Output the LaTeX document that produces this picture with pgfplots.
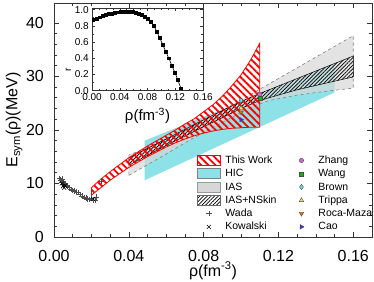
\documentclass[border=0pt]{standalone}
\usepackage{fontspec}
\setmainfont{Liberation Sans}
\usepackage{pgfplots}
\pgfplotsset{compat=1.18}
\usetikzlibrary{patterns.meta}
\definecolor{hic}{RGB}{140,226,230}
\definecolor{ias}{RGB}{215,215,215}
\definecolor{zhang}{RGB}{210,100,220}
\definecolor{wang}{RGB}{0,190,0}
\definecolor{brown}{RGB}{100,225,225}
\definecolor{trippa}{RGB}{240,225,100}
\definecolor{roca}{RGB}{225,110,0}
\definecolor{cao}{RGB}{90,30,220}
\tikzset{
  redhatch/.style={draw=red, line width=0.8pt, pattern={Lines[angle=-45,distance=5bp,line width=1.8bp]}, pattern color=red},
  blackhatch/.style={draw=black, line width=0.5pt, pattern={Lines[angle=45,distance=2.6bp,line width=0.7bp]}, pattern color=black},
}
\begin{document}
\begin{tikzpicture}
\begin{axis}[name=main,
  width=318bp, height=234bp, scale only axis,
  xmin=0, xmax=0.17, ymin=0, ymax=43.7,
  xtick={0,0.04,...,0.16}, ytick={0,10,...,40},
  minor x tick num=3, minor y tick num=4,
  tick align=inside, xtick pos=both, ytick pos=both,
  major tick length=5bp, minor tick length=3bp,
  axis line style={line width=0.8pt, black!80},
  every tick/.style={black!80, line width=0.6pt},
  /pgf/number format/assume math mode=true,
  /pgf/number format/fixed, /pgf/number format/fixed zerofill,
  xticklabel style={/pgf/number format/precision=2, inner sep=0pt, yshift=-13bp, font=\fontsize{16bp}{18bp}\selectfont},
  yticklabel style={/pgf/number format/precision=0, /pgf/number format/fixed zerofill=false, inner sep=0pt, xshift=-10bp, font=\fontsize{16bp}{18bp}\selectfont},
  scaled x ticks=false,
  xlabel={ρ(fm\textsuperscript{-3})},
  ylabel={E\textsubscript{sym}(ρ)(MeV)},
  xlabel style={at={([yshift=-39bp]axis description cs:0.5,0)}, anchor=base, font=\fontsize{16bp}{18bp}\selectfont},
  ylabel style={at={([xshift=-36.5bp]axis description cs:0,0.5)}, anchor=base, font=\fontsize{16bp}{18bp}\selectfont},
  legend columns=2,
  legend style={at={(0.4497,0.355)}, anchor=north west, draw=none, fill=none, inner sep=0pt, outer sep=0pt,
    row sep=0.2bp, column sep=0pt, font=\fontsize{10.5bp}{12bp}\selectfont,
    cells={anchor=west, inner sep=0pt, text height=7.6bp, text depth=2.4bp}},
]
% HIC
\addplot[fill=hic, draw=none, forget plot] coordinates {(0.0485,10.6) (0.15,27.0) (0.15,32.3) (0.0485,18.0)} -- cycle;
% IAS
\addplot[fill=ias, fill opacity=0.7, draw=black!50, dashed, line width=0.6pt, forget plot] coordinates {
 (0.04,11.5) (0.06,15.5) (0.0725,18.1) (0.09,21.4) (0.105,24.2) (0.115,25.5) (0.13,26.5) (0.145,27.2) (0.16,27.8)
 (0.16,37.6) (0.13,31.6) (0.11,27.6) (0.09,23.6) (0.07,19.8) (0.055,17.4) (0.04,15.3)} -- cycle;
% IAS+NSkin
\addplot[blackhatch, forget plot] coordinates {
 (0.04,13.4) (0.06,17.1) (0.08,20.6) (0.10,24.0) (0.11,25.5) (0.13,27.5) (0.16,29.9)
 (0.16,33.8) (0.13,29.6) (0.11,26.8) (0.10,25.3) (0.08,21.9) (0.06,18.3) (0.04,14.8)} -- cycle;
% This work
\addplot[redhatch, forget plot] coordinates {
 (0.020,7.8) (0.025,9.2) (0.030,10.6) (0.035,11.8) (0.040,13.0) (0.045,14.0) (0.050,15.0) (0.055,15.9) (0.060,16.8) (0.065,17.6) (0.070,18.3) (0.075,18.9) (0.080,19.4) (0.085,19.8) (0.090,20.1) (0.095,20.3) (0.100,20.4) (0.105,20.5) (0.110,20.5)
 (0.110,36.2) (0.105,33.0) (0.100,30.3) (0.095,28.2) (0.090,26.3) (0.085,24.7) (0.080,23.4) (0.075,22.1) (0.070,21.1) (0.065,20.0) (0.060,19.0) (0.055,18.0) (0.050,17.0) (0.045,15.9) (0.040,14.8) (0.035,13.5) (0.030,12.2) (0.025,10.8) (0.020,9.2)} -- cycle;
% Wada
\addplot[only marks, mark=+, mark size=2.8bp, black!70, line width=0.5pt, forget plot] coordinates {
 (0.003,10.9) (0.0035,10.6) (0.004,10.3) (0.0045,10.8) (0.005,10.2) (0.0055,9.9) (0.006,10.0) (0.0065,9.6) (0.007,9.4) (0.008,9.2) (0.009,8.9) (0.010,8.7) (0.011,8.6) (0.012,8.4) (0.013,8.3) (0.014,7.9) (0.015,7.7) (0.016,7.4) (0.017,7.3) (0.018,7.1) (0.019,7.0) (0.020,7.3) (0.021,6.8) (0.022,6.9) (0.0225,7.5) (0.025,10.5)};
% Kowalski
\addplot[only marks, mark=x, mark size=2.8bp, black, line width=0.6pt, forget plot] coordinates {
 (0.0042,10.0) (0.0048,9.5) (0.0055,9.2) (0.006,9.6) (0.021,7.1)};
% points
\addplot[only marks, mark=*, mark size=2.2bp, mark options={fill=zhang, draw=black!70, line width=0.4pt}, forget plot] coordinates {(0.11,26.65)};
\addplot[only marks, mark=square*, mark size=2bp, mark options={fill=wang, draw=black!70, line width=0.4pt}, forget plot] coordinates {(0.11,26.0)};
\addplot[only marks, mark=diamond*, mark size=2.6bp, mark options={fill=brown, draw=black!70, line width=0.4pt}, forget plot] coordinates {(0.10,25.5)};
\addplot[only marks, mark=triangle*, mark size=2.6bp, mark options={fill=trippa, draw=black!70, line width=0.4pt}, forget plot] coordinates {(0.10,24.1)};
\addplot[only marks, mark=triangle*, mark size=2.6bp, mark options={fill=roca, draw=black!70, line width=0.4pt, rotate=180}, forget plot] coordinates {(0.10,23.3)};
\addplot[only marks, mark=triangle*, mark size=2.6bp, mark options={fill=cao, draw=black!70, line width=0.4pt, rotate=-90}, forget plot] coordinates {(0.10,21.9)};
% legend
\addlegendimage{legend image code/.code={\draw[redhatch] (0bp,-5bp) rectangle (23bp,5bp); \path[draw=none,fill=none] (26bp,0bp) circle (0pt);}}
\addlegendentry{This Work}
\addlegendimage{legend image code/.code={\path[draw=none,fill=none,pattern=none] (0bp,-5bp) rectangle (38bp,5bp); \draw[mark=*, mark size=2.2bp, mark options={fill=zhang, draw=black!70, line width=0.4pt}] plot coordinates {(23bp,0bp)};}}
\addlegendentry{Zhang}
\addlegendimage{legend image code/.code={\draw[fill=hic, draw=black!50, line width=0.6pt] (0bp,-5bp) rectangle (23bp,5bp); \path[draw=none,fill=none] (26bp,0bp) circle (0pt);}}
\addlegendentry{HIC}
\addlegendimage{legend image code/.code={\path[draw=none,fill=none,pattern=none] (0bp,-5bp) rectangle (38bp,5bp); \draw[mark=square*, mark size=2bp, mark options={fill=wang, draw=black!70, line width=0.4pt}] plot coordinates {(23bp,0bp)};}}
\addlegendentry{Wang}
\addlegendimage{legend image code/.code={\draw[fill=ias, draw=black!40, line width=0.6pt] (0bp,-5bp) rectangle (23bp,5bp); \path[draw=none,fill=none] (26bp,0bp) circle (0pt);}}
\addlegendentry{IAS}
\addlegendimage{legend image code/.code={\path[draw=none,fill=none,pattern=none] (0bp,-5bp) rectangle (38bp,5bp); \draw[mark=diamond*, mark size=2.6bp, mark options={fill=brown, draw=black!70, line width=0.4pt}] plot coordinates {(23bp,0bp)};}}
\addlegendentry{Brown}
\addlegendimage{legend image code/.code={\draw[blackhatch, draw=black!60] (0bp,-5bp) rectangle (23bp,5bp); \path[draw=none,fill=none] (26bp,0bp) circle (0pt);}}
\addlegendentry{IAS+NSkin}
\addlegendimage{legend image code/.code={\path[draw=none,fill=none,pattern=none] (0bp,-5bp) rectangle (38bp,5bp); \draw[mark=triangle*, mark size=2.6bp, mark options={fill=trippa, draw=black!70, line width=0.4pt}] plot coordinates {(23bp,0bp)};}}
\addlegendentry{Trippa}
\addlegendimage{legend image code/.code={\path[draw=none,fill=none,pattern=none] (0bp,-5bp) rectangle (26bp,5bp); \draw[mark=+, mark size=2.8bp, black!70, line width=0.5pt] plot coordinates {(11.5bp,0bp)};}}
\addlegendentry{Wada}
\addlegendimage{legend image code/.code={\path[draw=none,fill=none,pattern=none] (0bp,-5bp) rectangle (38bp,5bp); \draw[mark=triangle*, mark size=2.6bp, mark options={fill=roca, draw=black!70, line width=0.4pt, rotate=180}] plot coordinates {(23bp,0bp)};}}
\addlegendentry{Roca-Maza}
\addlegendimage{legend image code/.code={\path[draw=none,fill=none,pattern=none] (0bp,-5bp) rectangle (26bp,5bp); \draw[mark=x, mark size=2.8bp, black, line width=0.6pt] plot coordinates {(11.5bp,0bp)};}}
\addlegendentry{Kowalski}
\addlegendimage{legend image code/.code={\path[draw=none,fill=none,pattern=none] (0bp,-5bp) rectangle (38bp,5bp); \draw[mark=triangle*, mark size=2.6bp, mark options={fill=cao, draw=black!70, line width=0.4pt, rotate=-90}] plot coordinates {(23bp,0bp)};}}
\addlegendentry{Cao}
\end{axis}
\begin{axis}[at={(main.south west)}, anchor=south west, xshift=38bp, yshift=146.3bp,
  width=111bp, height=82.7bp, scale only axis,
  axis background/.style={fill=white},
  xmin=0, xmax=0.16, ymin=0, ymax=1.02,
  xtick={0,0.04,...,0.16}, ytick={0,0.2,...,1.0},
  minor x tick num=3, minor y tick num=1,
  tick align=inside, xtick pos=both, ytick pos=both,
  major tick length=3bp, minor tick length=2bp,
  axis line style={line width=0.6pt, black!80},
  every tick/.style={black!80, line width=0.5pt},
  /pgf/number format/assume math mode=true,
  /pgf/number format/fixed, /pgf/number format/fixed zerofill,
  xticklabel style={/pgf/number format/precision=2, inner sep=0pt, yshift=-2.5bp, font=\fontsize{10bp}{12bp}\selectfont},
  yticklabel style={/pgf/number format/precision=1, inner sep=0pt, xshift=-3bp, font=\fontsize{10bp}{12bp}\selectfont},
  scaled x ticks=false, scaled y ticks=false,
  xlabel={ρ(fm\textsuperscript{-3})},
  ylabel={r},
  xlabel style={at={([yshift=-30bp]axis description cs:0.5,0)}, anchor=base, font=\fontsize{15bp}{17bp}\selectfont},
  ylabel style={at={([xshift=-21bp]axis description cs:0,0.25)}, anchor=base, font=\fontsize{10bp}{12bp}\selectfont},
]
\addplot[black, line width=0.6pt, mark=square*, mark size=1.4bp] coordinates {
 (0.0020,0.87) (0.0064,0.89) (0.0107,0.905) (0.0151,0.92) (0.0194,0.933) (0.0238,0.944) (0.0281,0.953) (0.0325,0.96) (0.0368,0.966) (0.0412,0.97) (0.0455,0.972) (0.0499,0.973) (0.0542,0.973) (0.0586,0.97) (0.0629,0.962) (0.0673,0.952) (0.0716,0.935) (0.0760,0.912) (0.0803,0.885) (0.0847,0.85) (0.0890,0.80) (0.0934,0.73) (0.0977,0.65) (0.1021,0.565) (0.1064,0.48) (0.1108,0.40) (0.1151,0.31) (0.1195,0.225) (0.1238,0.13) (0.1282,0.03)};
\end{axis}
\pgfresetboundingbox
\path[use as bounding box] ([xshift=-54bp,yshift=-45bp]main.south west) rectangle ([xshift=2bp,yshift=3bp]main.north east);
\end{tikzpicture}
\end{document}
